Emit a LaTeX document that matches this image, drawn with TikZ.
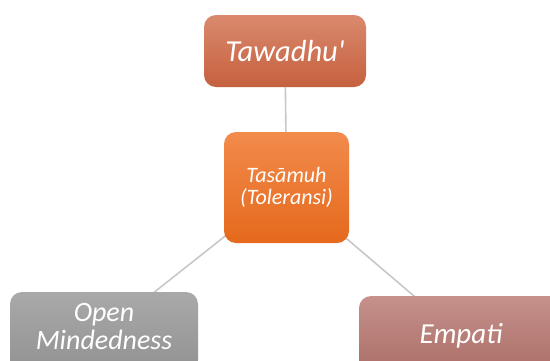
\documentclass[tikz,border=0pt]{standalone}
\usepackage{fontspec}
\setmainfont{Carlito}[Ligatures=TeXOff]
\usetikzlibrary{backgrounds}

\definecolor{tawtop}{HTML}{DA896D}
\definecolor{tawbot}{HTML}{C5613F}
\definecolor{tastop}{HTML}{F28B4C}
\definecolor{tasbot}{HTML}{E5691C}
\definecolor{opentop}{HTML}{A9A9A9}
\definecolor{openbot}{HTML}{929292}
\definecolor{emptop}{HTML}{C6918B}
\definecolor{empbot}{HTML}{AA6C66}
\definecolor{linegray}{HTML}{C8C8C8}

\begin{document}
\begin{tikzpicture}[x=1pt, y=-1pt,
  box/.style={rounded corners=12pt, inner sep=0pt, text=white},
  lbl/.style={text=white, inner sep=0pt, align=center},
  link/.style={draw=linegray, line width=1.6pt}]
\useasboundingbox (0,0) rectangle (550,360);
\clip (0,0) rectangle (550,360);

%Tawadhu'
\node[box, top color=tawtop, bottom color=tawbot,
  minimum width=162pt, minimum height=72pt,
  font=\fontsize{30.5}{32}\selectfont\itshape] (taw) at (285,51) {Tawadhu'};

%Tasamuh
\node[box, top color=tastop, bottom color=tasbot, align=center,
  minimum width=125pt, minimum height=111pt,
  font=\fontsize{22}{22.5}\selectfont\itshape] (tas) at (286.5,187.5) {Tasāmuh\\(Toleransi)};

%Open Mindedness
\node[box, top color=opentop, bottom color=openbot,
  minimum width=188pt, minimum height=80pt] (open) at (104,332) {};
\node[lbl, font=\fontsize{28}{28}\selectfont\itshape] (openlbl) at (104,327) {Open\\Mindedness};

%Empati
\node[box, top color=emptop, bottom color=empbot,
  minimum width=204pt, minimum height=80pt,
  font=\fontsize{29}{30}\selectfont\itshape] (emp) at (461,336) {Empati};

%links
\begin{scope}[on background layer]
\fill[white] (0,0) rectangle (550,360);
\draw[link] (taw.center) -- (tas.center);
\draw[link] (tas.center) -- (open.center);
\draw[link] (tas.center) -- (emp.center);
\end{scope}
\end{tikzpicture}
\end{document}
